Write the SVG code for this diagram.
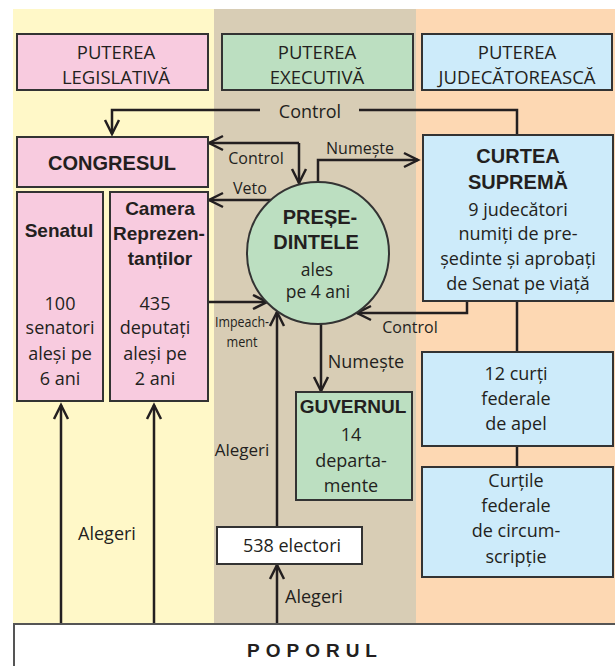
<svg xmlns="http://www.w3.org/2000/svg" width="615" height="666" viewBox="0 0 615 666">
<defs>
<style>
.box{stroke:#333;stroke-width:2}
.ln{fill:none;stroke:#231f20;stroke-width:2.5}
.t{font-family:"Open Sans","Noto Sans",sans-serif;fill:#231f20;text-anchor:middle}
.b{font-family:"Liberation Sans",Arial,sans-serif;font-weight:bold;fill:#231f20;text-anchor:middle}
.f18{font-size:18px}
.f16{font-size:16px}
.hd{font-size:18.5px}
</style>
<marker id="ah" viewBox="-16 -10 20 20" markerWidth="20" markerHeight="20" refX="0" refY="0" orient="auto" markerUnits="userSpaceOnUse">
<path d="M-14,-7 L0,0 L-14,7" fill="none" stroke="#231f20" stroke-width="2.5"/>
</marker>
</defs>
<rect x="0" y="0" width="615" height="666" fill="#fff"/>
<g id="background">
<rect x="13" y="9" width="201" height="615" fill="#fff8c8"/>
<rect x="214" y="9" width="202" height="615" fill="#d8cdb5"/>
<rect x="416" y="9" width="199" height="615" fill="#fdd8b3"/>
</g>
<g id="hdr-leg"><rect class="box" x="17" y="34" width="191" height="56" fill="#f8cbdf"/>
<text class="t hd" x="116" y="59">PUTEREA</text><text class="t hd" x="116" y="84">LEGISLATIVĂ</text></g>
<g id="hdr-exe"><rect class="box" x="222" y="34" width="191" height="56" fill="#bcdfc1"/>
<text class="t hd" x="317" y="59">PUTEREA</text><text class="t hd" x="317" y="84">EXECUTIVĂ</text></g>
<g id="hdr-jud"><rect class="box" x="422" y="34" width="190" height="56" fill="#cdebfa"/>
<text class="t hd" x="517" y="59">PUTEREA</text><text class="t hd" x="517" y="84">JUDECĂTOREASCĂ</text></g>

<g id="connectors">
<path class="ln" d="M517,135 V110 H359"/>
<path class="ln" d="M260,110 H112 V134" marker-end="url(#ah)"/>
<text class="t f18" x="310" y="118">Control</text>
<path class="ln" d="M299,143 H209" marker-end="url(#ah)"/>
<path class="ln" d="M299,143 V183" marker-end="url(#ah)"/>
<text class="t f16" x="256" y="164">Control</text>
<path class="ln" d="M271,200 H209" marker-end="url(#ah)"/>
<text class="t f16" x="250" y="194">Veto</text>
<path class="ln" d="M318,182 V160 H418" marker-end="url(#ah)"/>
<text class="t f16" x="360" y="154">Numește</text>
<path class="ln" d="M467,301 V313 H357" marker-end="url(#ah)"/>
<text class="t f16" x="410" y="333">Control</text>
<path class="ln" d="M208,302 H267" marker-end="url(#ah)"/>
<text class="t" font-size="14" x="242" y="327" textLength="54" lengthAdjust="spacingAndGlyphs">Impeach-</text>
<text class="t" font-size="14" x="242" y="347" textLength="31" lengthAdjust="spacingAndGlyphs">ment</text>
<path class="ln" d="M321,324 V391" marker-end="url(#ah)"/>
<text class="t f18" x="366" y="368">Numește</text>
<path class="ln" d="M277,527 V312" marker-end="url(#ah)"/>
<text class="t" font-size="17" x="242" y="456">Alegeri</text>
<path class="ln" d="M277,624 V565" marker-end="url(#ah)"/>
<text class="t f18" x="314" y="603">Alegeri</text>
<path class="ln" d="M61,624 V405" marker-end="url(#ah)"/>
<path class="ln" d="M154,624 V405" marker-end="url(#ah)"/>
<text class="t f18" x="107" y="540">Alegeri</text>
<path class="ln" d="M517,301 V352 M517,446 V467"/>
</g>

<g id="congresul"><rect class="box" x="17" y="137" width="191" height="50" fill="#f8cbdf"/>
<text class="b" font-size="20" x="112" y="170">CONGRESUL</text></g>
<g id="senatul"><rect class="box" x="17" y="192" width="86" height="209" fill="#f8cbdf"/>
<text class="b" font-size="19" x="59" y="237">Senatul</text>
<text class="t f18" x="60" y="310">100</text>
<text class="t f18" x="60" y="334">senatori</text>
<text class="t f18" x="60" y="360">aleși pe</text>
<text class="t f18" x="60" y="385">6 ani</text></g>
<g id="camera"><rect class="box" x="110" y="192" width="98" height="209" fill="#f8cbdf"/>
<text class="b" font-size="19" x="160" y="215">Camera</text>
<text class="b" font-size="19" x="159" y="240">Reprezen-</text>
<text class="b" font-size="19" x="160" y="265">tanților</text>
<text class="t f18" x="155" y="310">435</text>
<text class="t f18" x="155" y="334">deputați</text>
<text class="t f18" x="155" y="360">aleși pe</text>
<text class="t f18" x="155" y="385">2 ani</text></g>
<g id="presedintele"><circle class="box" cx="318" cy="253" r="71" fill="#bcdfc1"/>
<text class="b" font-size="20" x="320" y="224">PREȘE-</text>
<text class="b" font-size="20" x="316" y="249">DINTELE</text>
<text class="t" font-size="17.5" x="317" y="276">ales</text>
<text class="t" font-size="17.5" x="318" y="298">pe 4 ani</text></g>
<g id="curtea"><rect class="box" x="423" y="135" width="190" height="166" fill="#cdebfa"/>
<text class="b" font-size="20" x="518" y="163">CURTEA</text>
<text class="b" font-size="20" x="518" y="189">SUPREMĂ</text>
<text class="t f18" x="518" y="216">9 judecători</text>
<text class="t f18" x="518" y="240">numiți de pre-</text>
<text class="t f18" x="518" y="265">ședinte și aprobați</text>
<text class="t f18" x="518" y="290">de Senat pe viață</text></g>
<g id="guvernul"><rect class="box" x="296" y="392" width="116" height="108" fill="#bcdfc1"/>
<text class="b" font-size="19" x="353" y="413">GUVERNUL</text>
<text class="t f18" x="351" y="441">14</text>
<text class="t f18" x="351" y="467">departa-</text>
<text class="t f18" x="351" y="492">mente</text></g>
<g id="curti-apel"><rect class="box" x="422" y="352" width="191" height="94" fill="#cdebfa"/>
<text class="t f18" x="516" y="380">12 curți</text>
<text class="t f18" x="516" y="405">federale</text>
<text class="t f18" x="516" y="430">de apel</text></g>
<g id="curti-circ"><rect class="box" x="422" y="467" width="191" height="110" fill="#cdebfa"/>
<text class="t f18" x="516" y="487">Curțile</text>
<text class="t f18" x="516" y="512">federale</text>
<text class="t f18" x="516" y="537">de circum-</text>
<text class="t f18" x="516" y="563">scripție</text></g>
<g id="electori"><rect class="box" x="217" y="527" width="145" height="37" fill="#fff"/>
<text class="t f18" x="292" y="552">538 electori</text></g>
<g id="poporul"><rect x="14" y="624" width="610" height="50" fill="#fff" stroke="#555" stroke-width="2"/>
<text class="b" font-size="19" x="315" y="657" letter-spacing="6">POPORUL</text></g>
</svg>
